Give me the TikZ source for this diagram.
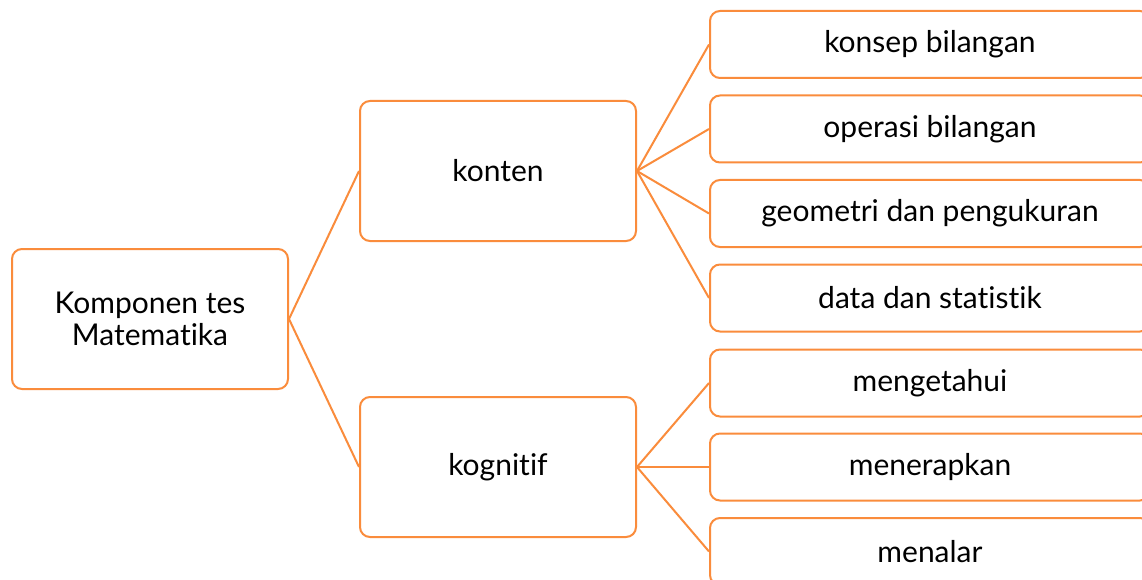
\documentclass[tikz,border=0pt]{standalone}
\usepackage{fontspec}
\setmainfont{Lato}[Ligatures={NoCommon,NoRare}]
\definecolor{tree}{RGB}{250,140,60}
\begin{document}
\begin{tikzpicture}[x=1pt,y=-1pt,
  box/.style={draw=tree,line width=2pt,rounded corners=10pt,fill=white,
    inner sep=0pt,align=center,font=\fontsize{30}{32}\selectfont},
  mainbox/.style={box,minimum width=276pt,minimum height=140pt},
  leafbox/.style={box,minimum width=440pt,minimum height=67pt},
  link/.style={draw=tree,line width=2pt}]
\clip (0,0) rectangle (1142,580);
\fill[white] (0,0) rectangle (1142,580);
% root and the two main branches
\node[mainbox] (root) at (150,319) {Komponen tes\\Matematika};
\node[mainbox] (konten) at (498,171) {konten};
\node[mainbox] (kog) at (498,467) {kognitif};
% leaves
\node[leafbox] (l1) at (930,44.5) {konsep bilangan};
\node[leafbox] (l2) at (930,129) {operasi bilangan};
\node[leafbox] (l3) at (930,213.5) {geometri dan pengukuran};
\node[leafbox] (l4) at (930,298) {data dan statistik};
\node[leafbox] (l5) at (930,383) {mengetahui};
\node[leafbox] (l6) at (930,467) {menerapkan};
\node[leafbox] (l7) at (930,551.5) {menalar};
% connectors
\path[link] (root.east) -- (konten.west);
\path[link] (root.east) -- (kog.west);
\foreach \n in {l1,l2,l3,l4} \path[link] (konten.east) -- (\n.west);
\foreach \n in {l5,l6,l7} \path[link] (kog.east) -- (\n.west);
\end{tikzpicture}
\end{document}
